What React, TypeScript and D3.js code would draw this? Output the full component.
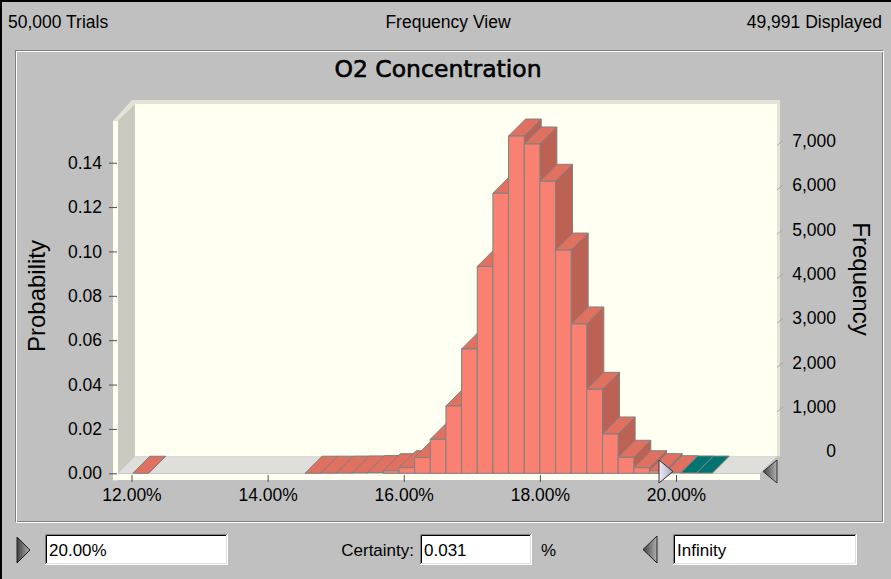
import { useEffect, useRef } from 'react'
import * as d3 from 'd3'

// histogram of the forecast (counts per bin)
const totalTrials = 50000
const displayed = 49991
const binStart = 12.02
const binWidth = 0.23
const counts = [
  1, 0, 0, 0, 0, 0, 0, 0, 0, 0,
  0, 2, 3, 5, 9, 16, 59, 126, 356, 766,
  1517, 2802, 4660, 6310, 7600, 7420, 6580, 5030, 3365, 1893,
  886, 361, 126, 60, 14, 8, 5,
]
const probTicks = [0, 0.02, 0.04, 0.06, 0.08, 0.1, 0.12, 0.14]
const freqTicks = [0, 1000, 2000, 3000, 4000, 5000, 6000, 7000]
const pctTicks = [12, 14, 16, 18, 20]
const lowerCut = 20
const certainty = '0.031'

const W = 891
const H = 579
const FONT = '"Liberation Sans", Arial, sans-serif'

export default function App() {
  const ref = useRef<SVGSVGElement>(null)

  useEffect(() => {
    const svg = d3.select(ref.current)
    svg.selectAll('*').remove()

    const D = 17 // depth of the 3d box
    const base = 473.3
    const x = d3.scaleLinear().domain([12, 20]).range([131.5, 676])
    const yP = d3.scaleLinear().domain([0, 0.14]).range([base, 162.7])
    const yF = d3.scaleLinear().domain([0, 7000]).range([base - D, yP(7000 / displayed) - D])

    const defs = svg.append('defs')
    const g1 = defs.append('linearGradient').attr('id', 'lightTri').attr('x1', 0).attr('x2', 1)
    g1.append('stop').attr('offset', 0).attr('stop-color', '#eeeef8')
    g1.append('stop').attr('offset', 1).attr('stop-color', '#a4a4c4')
    const g2 = defs.append('linearGradient').attr('id', 'darkTri').attr('x1', 0).attr('x2', 1)
    g2.append('stop').attr('offset', 0).attr('stop-color', '#404040')
    g2.append('stop').attr('offset', 1).attr('stop-color', '#b0b0b0')

    svg.append('rect').attr('width', W).attr('height', H).attr('fill', '#c0c0c0')
    svg.append('path').attr('d', `M1,${H} V1 H${W}`).attr('stroke', '#000').attr('stroke-width', 2).attr('fill', 'none')

    // header
    const head = svg.append('g').attr('font-family', FONT).attr('font-size', 17.5).attr('fill', '#000')
    head.append('text').attr('x', 8).attr('y', 28).text(`${d3.format(',')(totalTrials)} Trials`)
    head.append('text').attr('x', 448).attr('y', 28).attr('text-anchor', 'middle').text('Frequency View')
    head.append('text').attr('x', 882).attr('y', 28).attr('text-anchor', 'end').text(`${d3.format(',')(displayed)} Displayed`)

    // etched panel
    svg.append('rect').attr('x', 15.5).attr('y', 50.5).attr('width', 867).attr('height', 471)
      .attr('fill', 'none').attr('stroke', '#808080')
    svg.append('rect').attr('x', 16.5).attr('y', 51.5).attr('width', 867).attr('height', 471)
      .attr('fill', 'none').attr('stroke', '#ffffff')

    svg.append('text').attr('x', 438).attr('y', 77).attr('text-anchor', 'middle')
      .attr('font-family', '"DejaVu Sans", sans-serif').attr('font-size', 23.5).attr('fill', '#000')
      .attr('stroke', '#000').attr('stroke-width', 0.6)
      .text('O2 Concentration')

    // 3d box
    const fl = 118, fr = 760, top = 121
    svg.append('rect').attr('x', fl + D).attr('y', top - D).attr('width', fr - fl).attr('height', base - top)
      .attr('fill', '#fffff2')
    svg.append('rect').attr('x', fl + D).attr('y', top - D - 4).attr('width', fr - fl + 3).attr('height', 4)
      .attr('fill', '#e4e4d4')
    svg.append('rect').attr('x', fr + D).attr('y', top - D - 4).attr('width', 3).attr('height', base - top + 4)
      .attr('fill', '#e4e4d4')
    svg.append('polygon')
      .attr('points', [[fl, top], [fl + D, top - D], [fl + D, base - D], [fl, base]].join(' '))
      .attr('fill', '#c9c9bf')
    svg.append('polygon')
      .attr('points', [[fl - 5, top], [fl, top], [fl + D, top - D], [fl + D, top - D - 4], [fl + D - 3, top - D - 4]].join(' '))
      .attr('fill', '#e4e4d4')
    svg.append('polygon')
      .attr('points', [[fl, base], [fl + D, base - D], [fr + D, base - D], [fr, base]].join(' '))
      .attr('fill', '#dededa')
    svg.append('rect').attr('x', fl - 5).attr('y', top).attr('width', 5).attr('height', base - top + 7)
      .attr('fill', '#fffff2')
    svg.append('rect').attr('x', fl - 5).attr('y', base + 0.7).attr('width', fr - fl + 5).attr('height', 6)
      .attr('fill', '#fffff2')

    // bars
    const bins = counts.map((c, i) => ({
      lo: binStart + i * binWidth,
      hi: binStart + (i + 1) * binWidth,
      p: c / displayed,
      c,
    })).filter(b => b.c > 0)

    const bars = svg.append('g').attr('stroke', '#808080').attr('stroke-width', 1).attr('stroke-linejoin', 'round')
    bins.forEach(b => {
      const x0 = x(b.lo), x1 = x(b.hi), t = yP(b.p)
      const cut = b.lo >= lowerCut
      const front = cut ? '#008c88' : '#fa8072'
      const topC = cut ? '#007470' : '#e0705f'
      const side = cut ? '#005e5a' : '#bc6254'
      bars.append('polygon')
        .attr('points', [[x1, t], [x1 + D, t - D], [x1 + D, base - D], [x1, base]].join(' '))
        .attr('fill', side)
      bars.append('polygon')
        .attr('points', [[x0, t], [x0 + D, t - D], [x1 + D, t - D], [x1, t]].join(' '))
        .attr('fill', topC)
      if (base - t > 0.8) {
        bars.append('rect').attr('x', x0).attr('y', t).attr('width', x1 - x0).attr('height', base - t)
          .attr('fill', front)
      }
    })

    // left axis: probability
    const axL = svg.append('g').attr('transform', `translate(117,0)`)
      .call(d3.axisLeft(yP).tickValues(probTicks).tickFormat(d3.format('.2f')).tickSize(8).tickPadding(7))
    axL.select('.domain').remove()
    axL.selectAll('line').attr('stroke', '#505050')
    axL.selectAll('text').attr('font-family', FONT).attr('font-size', 17.5).attr('fill', '#000')

    // right axis: frequency on the back wall
    const slashes = svg.append('g').attr('stroke', '#a8a8a8')
    freqTicks.filter(v => v > 0).forEach(v => {
      slashes.append('line').attr('x1', fr + D).attr('y1', yF(v)).attr('x2', fr + D + 6).attr('y2', yF(v) - 5)
    })
    const axR = svg.append('g').attr('transform', `translate(836,-5)`)
      .call(d3.axisRight(yF).tickValues(freqTicks).tickFormat(d3.format(',')).tickSize(0).tickPadding(0))
    axR.select('.domain').remove()
    axR.selectAll('text').attr('x', 0).attr('text-anchor', 'end')
      .attr('font-family', FONT).attr('font-size', 17.5).attr('fill', '#000')

    // bottom axis
    const axB = svg.append('g').attr('transform', `translate(0,475)`)
      .call(d3.axisBottom(x).tickValues(pctTicks).tickFormat(d => `${(+d).toFixed(2)}%`).tickSize(7).tickPadding(7))
    axB.select('.domain').remove()
    axB.selectAll('line').attr('stroke', '#505050')
    axB.selectAll('text').attr('font-family', FONT).attr('font-size', 17.5).attr('fill', '#000')

    svg.append('text').attr('transform', 'translate(45,296) rotate(-90)').attr('text-anchor', 'middle')
      .attr('font-family', FONT).attr('font-size', 24).attr('fill', '#000').text('Probability')
    svg.append('text').attr('transform', 'translate(853,279) rotate(90)').attr('text-anchor', 'middle')
      .attr('font-family', FONT).attr('font-size', 24).attr('fill', '#000').text('Frequency')

    // grab handles
    const cx = x(lowerCut) - 3
    svg.append('polygon').attr('points', [[cx - 14, 460], [cx, 471.5], [cx - 14, 483]].join(' '))
      .attr('fill', 'url(#lightTri)').attr('stroke', '#303030')
    svg.append('polygon').attr('points', [[fr + D, 460], [fr + 3, 471.5], [fr + D, 483]].join(' '))
      .attr('fill', 'url(#darkTri)').attr('stroke', '#303030')

    // bottom controls
    const box = (bx: number, w: number, label: string) => {
      const by = 534, bh = 31
      svg.append('rect').attr('x', bx).attr('y', by).attr('width', w).attr('height', bh).attr('fill', '#fff')
      svg.append('path').attr('d', `M${bx + 0.5},${by + bh} V${by + 0.5} H${bx + w}`).attr('stroke', '#808080').attr('fill', 'none')
      svg.append('path').attr('d', `M${bx + 1.5},${by + bh - 1} V${by + 1.5} H${bx + w - 1}`).attr('stroke', '#000').attr('fill', 'none')
      svg.append('path').attr('d', `M${bx},${by + bh - 0.5} H${bx + w - 0.5} V${by}`).attr('stroke', '#ffffff').attr('fill', 'none')
      svg.append('path').attr('d', `M${bx + 1},${by + bh - 1.5} H${bx + w - 1.5} V${by + 1}`).attr('stroke', '#dfdfdf').attr('fill', 'none')
      svg.append('text').attr('x', bx + 4).attr('y', 556).attr('font-family', FONT).attr('font-size', 17).attr('fill', '#000').text(label)
    }
    svg.append('polygon').attr('points', '17,537 30,550 17,563').attr('fill', 'url(#darkTri)').attr('stroke', '#202020')
    box(45, 183, `${lowerCut.toFixed(2)}%`)
    svg.append('text').attr('x', 414).attr('y', 556).attr('text-anchor', 'end')
      .attr('font-family', FONT).attr('font-size', 17).attr('fill', '#000').text('Certainty:')
    box(420, 112, certainty)
    svg.append('text').attr('x', 541).attr('y', 556)
      .attr('font-family', FONT).attr('font-size', 17).attr('fill', '#000').text('%')
    svg.append('polygon').attr('points', '657,536 643,549.5 657,563').attr('fill', 'url(#darkTri)').attr('stroke', '#202020')
    box(673, 184, 'Infinity')
  }, [])

  return (
    <svg ref={ref} width={W} height={H} style={{ position: 'absolute', left: 0, top: 0 }} />
  )
}
